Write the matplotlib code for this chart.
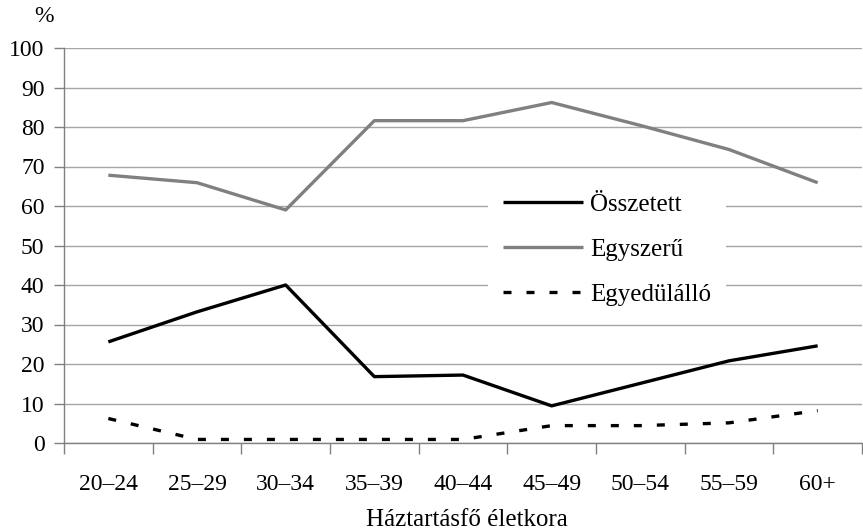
import matplotlib
matplotlib.use("Agg")
import matplotlib.pyplot as plt
import numpy as np

categories = ["20–24", "25–29", "30–34", "35–39", "40–44", "45–49", "50–54", "55–59", "60+"]
osszetett = [25.6, 33.2, 40.0, 16.8, 17.2, 9.4, 15.1, 20.8, 24.6]
egyszeru = [67.8, 65.9, 59.0, 81.6, 81.6, 86.2, 80.4, 74.3, 65.9]
egyedulallo = [6.2, 0.9, 0.9, 0.9, 0.9, 4.4, 4.4, 5.1, 8.2]
yticks = list(range(0, 101, 10))

plt.rcParams['font.family'] = ['Liberation Serif', 'DejaVu Serif']

W, H = 863, 531
fig = plt.figure(figsize=(W/100, H/100), dpi=100)
ax = fig.add_axes([64/W, (H-443)/H, (862-64)/W, (443-48)/H])

x = np.arange(len(categories))
ax.plot(x, osszetett, color='black', lw=2.4, label='Összetett', solid_capstyle='butt', zorder=3)
ax.plot(x, egyszeru, color='#808080', lw=2.4, label='Egyszerű', solid_capstyle='butt', zorder=3)
ax.plot(x, egyedulallo, color='black', lw=2.4, linestyle=(0, (2.4, 4.5)), label='Egyedülálló', zorder=3)

ax.set_xlim(-0.5, len(categories) - 0.5)
ax.set_ylim(0, 100)
ax.set_yticks(yticks)
ax.set_yticklabels([str(v) for v in yticks], fontsize=17)
ax.set_xticks(x)
ax.set_xticklabels(categories, fontsize=17)
ax.set_xticks(np.arange(-0.5, len(categories), 1.0), minor=True)
ax.tick_params(axis='x', which='major', length=0, pad=22)
ax.tick_params(axis='x', which='minor', length=8, color='#808080', width=1, direction='out')
ax.tick_params(axis='y', length=7, color='#808080', width=1, pad=7)

ax.grid(axis='y', color='#a6a6a6', lw=1, zorder=0)
for s in ['top', 'right']:
    ax.spines[s].set_visible(False)
ax.spines['left'].set_color('#808080')
ax.spines['bottom'].set_color('#808080')
ax.spines['left'].set_linewidth(1)
ax.spines['bottom'].set_linewidth(1)
ax.axhline(100, color='#808080', lw=1.2, zorder=1)

leg = ax.legend(loc='upper left', bbox_to_anchor=((488-64)/798, (443-178)/395), fontsize=18, frameon=True,
                fancybox=False, edgecolor='none', facecolor='white', framealpha=1,
                handlelength=3.2, handletextpad=0.28, labelspacing=0.9, borderpad=0.6,
                borderaxespad=0)

fig.text(467/W, 1 - 526/H, 'Háztartásfő életkora', fontsize=18, ha='center', va='baseline')
fig.text(44/W, 1 - 16/H, '%', fontsize=17, ha='center', va='center')

fig.savefig('out.png', dpi=100)
